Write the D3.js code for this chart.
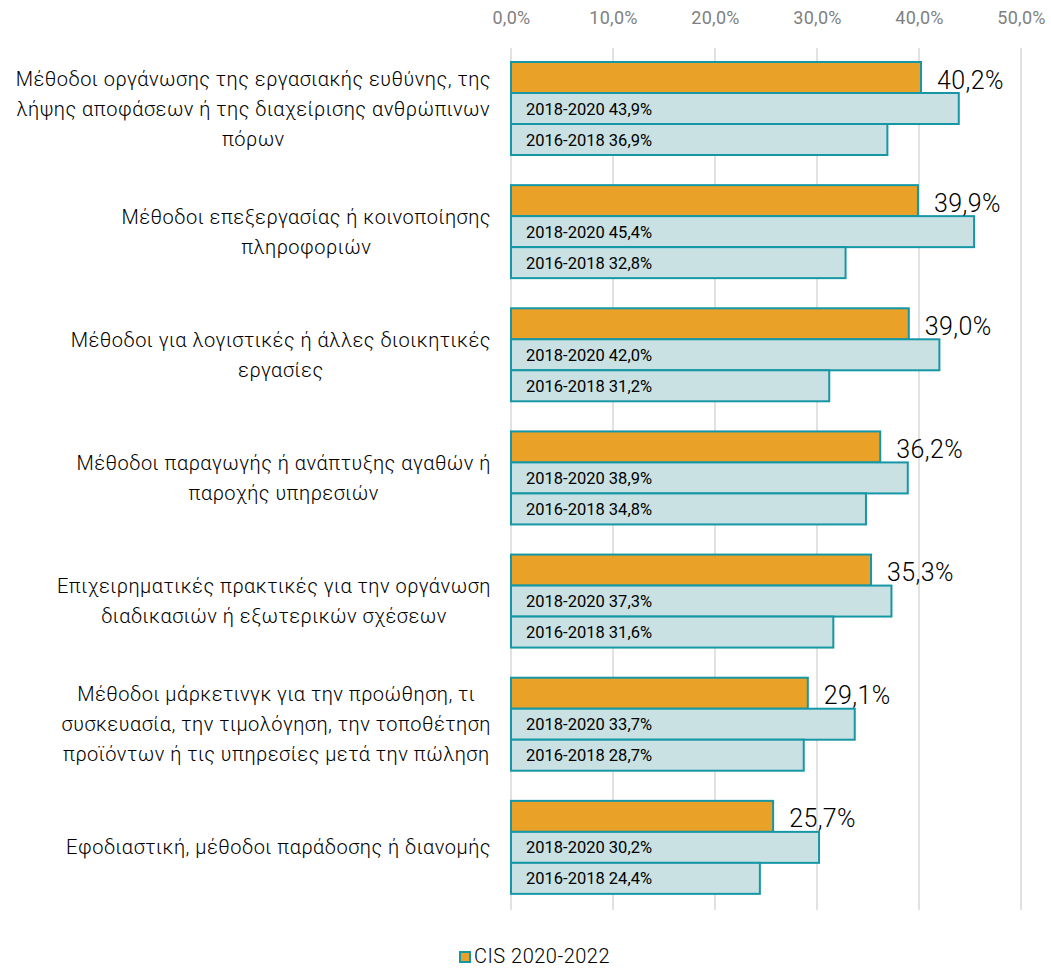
<!DOCTYPE html>
<html>
<head>
<meta charset="utf-8">
<script src="https://cdn.jsdelivr.net/npm/d3@7"></script>
<style>
  body { margin: 0; background: #fff; }
  text { font-family: Roboto, "Noto Sans", sans-serif; }
</style>
</head>
<body>
<svg id="chart"></svg>
<script>
const categories = [
  ["Μέθοδοι οργάνωσης της εργασιακής ευθύνης, της", "λήψης αποφάσεων ή της διαχείρισης ανθρώπινων", "πόρων"],
  ["Μέθοδοι επεξεργασίας ή κοινοποίησης", "πληροφοριών"],
  ["Μέθοδοι για λογιστικές ή άλλες διοικητικές", "εργασίες"],
  ["Μέθοδοι παραγωγής ή ανάπτυξης αγαθών ή", "παροχής υπηρεσιών"],
  ["Επιχειρηματικές πρακτικές για την οργάνωση", "διαδικασιών ή εξωτερικών σχέσεων"],
  ["Μέθοδοι μάρκετινγκ για την προώθηση, τι", "συσκευασία, την τιμολόγηση, την τοποθέτηση", "προϊόντων ή τις υπηρεσίες μετά την πώληση"],
  ["Εφοδιαστική, μέθοδοι παράδοσης ή διανομής"]
];
const cis2020 = [40.2, 39.9, 39.0, 36.2, 35.3, 29.1, 25.7];
const cis2018 = [43.9, 45.4, 42.0, 38.9, 37.3, 33.7, 30.2];
const cis2016 = [36.9, 32.8, 31.2, 34.8, 31.6, 28.7, 24.4];
const periods = ["2020-2022", "2018-2020", "2016-2018"];
const xTicks = [0, 10, 20, 30, 40, 50];

const width = 1051, height = 970;
const margin = {top: 48, right: 30, bottom: 60, left: 511};

const svg = d3.select("#chart").attr("width", width).attr("height", height);

const fmt = v => d3.format(".1f")(v).replace(".", ",");

const x = d3.scaleLinear().domain([0, 50]).range([margin.left, margin.left + 510]);
const y = d3.scaleBand().domain(d3.range(categories.length)).range([margin.top, 910]);
const sub = d3.scaleBand().domain(periods).range([14, 107]);

// gridlines
svg.append("g")
  .selectAll("line")
  .data(xTicks)
  .join("line")
  .attr("x1", d => x(d)).attr("x2", d => x(d))
  .attr("y1", margin.top).attr("y2", 910)
  .attr("stroke", "#d9d9d9").attr("stroke-width", 1.5);

// top axis
const ax = svg.append("g")
  .attr("transform", `translate(0,${margin.top - 21})`)
  .call(d3.axisTop(x).tickValues(xTicks).tickSize(0).tickFormat(d => fmt(d) + "%"));
ax.select(".domain").remove();
ax.selectAll("text").attr("font-size", 18).attr("fill", "#808080")
  .attr("font-family", "Roboto, sans-serif").attr("letter-spacing", 0.3);

const rows = categories.map((c, i) => ({i, lines: c, v: [cis2020[i], cis2018[i], cis2016[i]]}));

const g = svg.append("g").selectAll("g")
  .data(rows)
  .join("g")
  .attr("transform", d => `translate(0,${y(d.i)})`);

g.selectAll("rect")
  .data(d => d.v.map((v, k) => ({v, p: periods[k], k})))
  .join("rect")
  .attr("x", x(0))
  .attr("y", d => sub(d.p))
  .attr("width", d => x(d.v) - x(0))
  .attr("height", sub.bandwidth())
  .attr("fill", d => d.k === 0 ? "#e9a127" : "#c9e1e3")
  .attr("stroke", "#1597a5")
  .attr("stroke-width", 2);

// main value labels
g.append("text")
  .attr("x", d => x(d.v[0]) + 16)
  .attr("y", sub(periods[0]) + sub.bandwidth() / 2 + 11)
  .attr("font-size", 25)
  .attr("letter-spacing", 0.4)
  .attr("font-weight", 300)
  .attr("fill", "#000")
  .text(d => fmt(d.v[0]) + "%");

// inner labels
g.selectAll("text.inner")
  .data(d => d.v.slice(1).map((v, k) => ({v, p: periods[k + 1]})))
  .join("text")
  .attr("class", "inner")
  .attr("x", x(0) + 15)
  .attr("y", d => sub(d.p) + sub.bandwidth() / 2 + 6)
  .attr("font-size", 16.5)
  .attr("fill", "#000")
  .text(d => d.p + " " + fmt(d.v) + "%");

// category labels: block right aligned, lines centred
const lineH = 30;
g.each(function(d) {
  const grp = d3.select(this);
  const n = d.lines.length;
  const cy = (sub.range()[0] + sub.range()[1]) / 2;
  const t = grp.append("text")
    .attr("font-size", 20)
    .attr("letter-spacing", 0.5)
    .attr("font-weight", 300)
    .attr("fill", "#000")
    .attr("text-anchor", "middle");
  const spans = d.lines.map((l, k) => t.append("tspan")
    .attr("y", cy + (k - (n - 1) / 2) * lineH + 7)
    .text(l));
  const maxW = d3.max(spans, s => s.node().getComputedTextLength());
  spans.forEach(s => s.attr("x", 491 - maxW / 2));
});

// legend
const lg = svg.append("g").attr("transform", "translate(460,952)");
lg.append("rect").attr("width", 10).attr("height", 10)
  .attr("fill", "#e9a127").attr("stroke", "#1597a5").attr("stroke-width", 2);
lg.append("text").attr("x", 14).attr("y", 11).attr("font-size", 20)
  .attr("letter-spacing", 0.5).attr("font-weight", 300).text("CIS " + periods[0]);
</script>
</body>
</html>
